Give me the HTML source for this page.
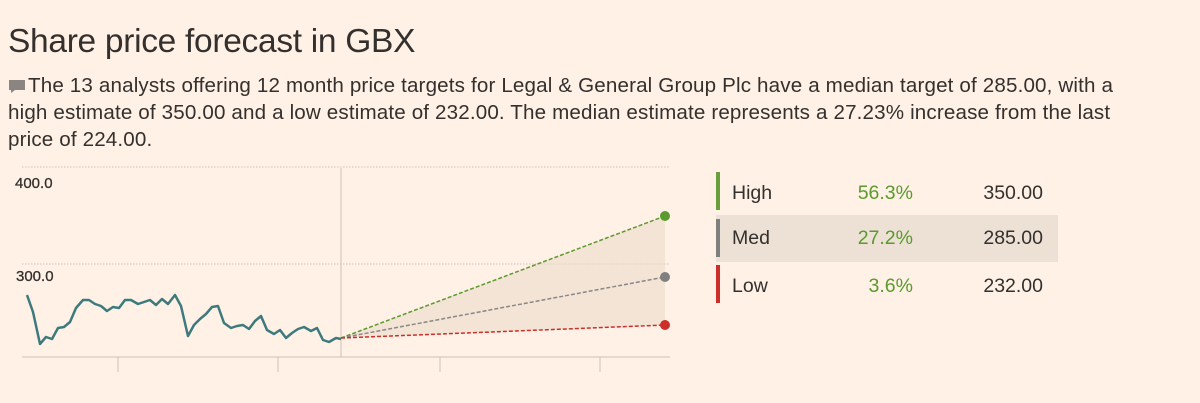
<!DOCTYPE html>
<html><head><meta charset="utf-8"><style>
body{margin:0;width:1200px;height:403px;background:#fff1e5;font-family:"Liberation Sans",sans-serif;color:#33302e;overflow:hidden;position:relative}
h1{position:absolute;left:8px;top:23px;margin:0;font-weight:normal;font-size:33.5px;letter-spacing:-0.3px}
p{position:absolute;left:8px;top:72px;margin:0;width:1190px;font-size:20.6px;line-height:27px;letter-spacing:0.15px}
.row{position:absolute;left:716px;width:342px;height:46px;font-size:19.5px}
.row span{position:absolute;top:12px}
.bar{position:absolute;left:0;top:2px;width:4px;height:38px}
</style></head><body>
<h1>Share price forecast in GBX</h1>
<p><svg width="20" height="16" style="vertical-align:-2px"><path d="M1 2h16v10H7l-4 3v-3H1z" fill="#8a8580"/></svg>The 13 analysts offering 12 month price targets for Legal &amp; General Group Plc have a median target of 285.00, with a<br>high estimate of 350.00 and a low estimate of 232.00. The median estimate represents a 27.23% increase from the last<br>price of 224.00.</p>
<svg style="position:absolute;left:0;top:0" width="700" height="403">
<g stroke="#ccc1b7" stroke-width="1" stroke-dasharray="1.5,1.5"><line x1="22" y1="167" x2="670" y2="167"/><line x1="22" y1="264" x2="670" y2="264"/></g>
<line x1="22" y1="357" x2="670" y2="357" stroke="#ccc1b7"/>
<g stroke="#ccc1b7"><line x1="341" y1="168" x2="341" y2="357"/><line x1="118" y1="357" x2="118" y2="372"/><line x1="278" y1="357" x2="278" y2="372"/><line x1="440" y1="357" x2="440" y2="372"/><line x1="600" y1="357" x2="600" y2="372"/></g>
<text x="15" y="188" font-size="15" fill="#33302e" stroke="#33302e" stroke-width="0.3">400.0</text>
<text x="16" y="281" font-size="15" fill="#33302e" stroke="#33302e" stroke-width="0.3">300.0</text>
<polygon points="341,338 665,216 665,325" fill="#ecdccb" opacity="0.6"/>
<polyline fill="none" stroke="#3d7a7e" stroke-width="2.5" stroke-linejoin="round" points="27,295 33,312 40,344 46,337 52,339 58,328 64,327 70,322 76,308 83,300 89,300 95,304 101,306 107,311 113,307 119,308 125,300 131,300 138,304 144,302 150,300 156,305 162,299 168,304 175,295 181,306 188,336 194,325 200,319 206,314 212,307 218,306 224,323 231,328 237,326 243,325 249,329 255,321 261,316 267,330 274,334 280,330 286,338 292,333 298,329 304,327 311,331 317,328 323,340 329,342 336,338 341,339"/>
<g stroke-width="1.5" stroke-dasharray="4,2"><line x1="341" y1="338" x2="665" y2="216" stroke="#5a9a2e"/><line x1="341" y1="338" x2="665" y2="277" stroke="#888"/><line x1="341" y1="338" x2="665" y2="325" stroke="#cc2f2a"/></g>
<circle cx="665" cy="216" r="5" fill="#5a9a2e"/><circle cx="665" cy="277" r="5" fill="#808080"/><circle cx="665" cy="325" r="5" fill="#cc2f2a"/>
</svg>
<div class="row" style="top:170px"><div class="bar" style="background:#6a9e3a"></div><span style="left:16px">High</span><span style="right:145px;color:#5a9a2e">56.3%</span><span style="right:15px">350.00</span></div>
<div class="row" style="top:215px;background:#ede0d4;height:47px"><div class="bar" style="background:#7f7f7f;top:4px"></div><span style="left:16px">Med</span><span style="right:145px;color:#5a9a2e">27.2%</span><span style="right:15px">285.00</span></div>
<div class="row" style="top:263px"><div class="bar" style="background:#cc2f2a"></div><span style="left:16px">Low</span><span style="right:145px;color:#5a9a2e">3.6%</span><span style="right:15px">232.00</span></div>
</body></html>
